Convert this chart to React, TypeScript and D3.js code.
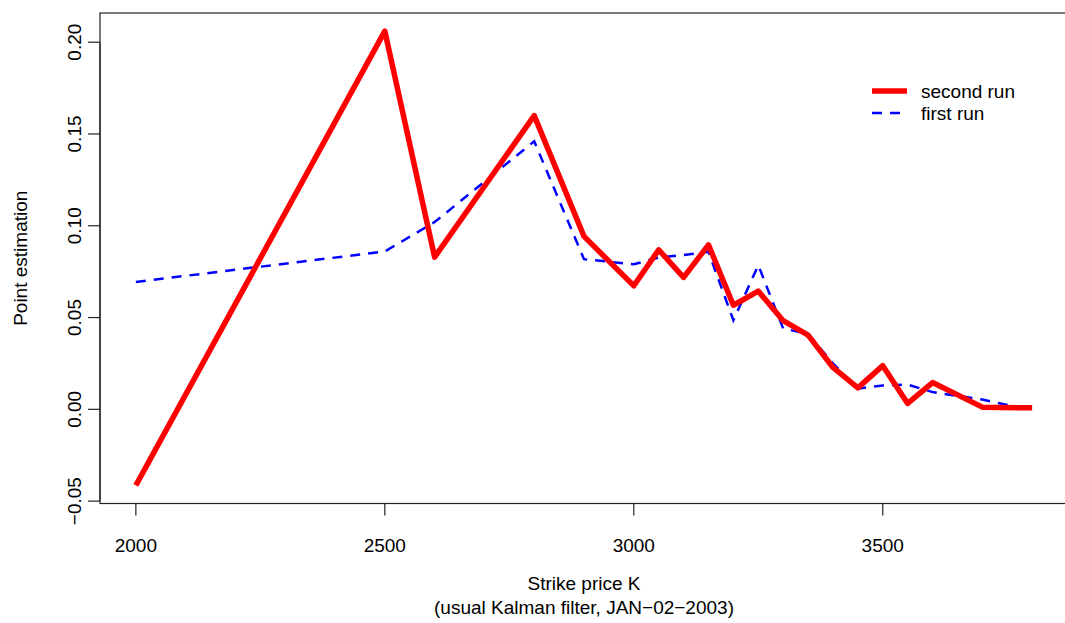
import React from 'react'
import { useEffect, useRef } from 'react'
import * as d3 from 'd3'

// strike prices (shared by both runs)
const strikes = [2000, 2500, 2600, 2800, 2900, 3000, 3050, 3100, 3150, 3200, 3250, 3300, 3350, 3400, 3450, 3500, 3550, 3600, 3700, 3800]

// point estimates
const secondRun = [-0.0414, 0.206, 0.0829, 0.160, 0.0942, 0.0673, 0.0869, 0.0719, 0.0896, 0.0567, 0.0644, 0.0483, 0.0404, 0.0228, 0.0117, 0.0238, 0.0032, 0.0146, 0.0012, 0.0008]
const firstRun = [0.0694, 0.0860, 0.1020, 0.1460, 0.0818, 0.0790, 0.0827, 0.0840, 0.0858, 0.0485, 0.0785, 0.0440, 0.0412, 0.0250, 0.0113, 0.0130, 0.0135, 0.0094, 0.0053, -0.0005]

const xTicks = [2000, 2500, 3000, 3500]
const yTicks = [-0.05, 0, 0.05, 0.1, 0.15, 0.2]

const legendLabels = ['second run', 'first run']

const fmtY = (v: number) => d3.format('.2f')(v).replace('-', '\u2212')

function App() {
    const svgRef = useRef<SVGSVGElement>(null)
    const width = 1065
    const height = 623
    const left = 100
    const right = 1068
    const top = 13
    const bottom = 503.5
    const font = '"Liberation Sans", Arial, Helvetica, sans-serif'
    const fs = 19

    useEffect(() => {
        const svg = d3.select(svgRef.current)
        svg.selectAll('*').remove()

        // R style 4% padding on both axes
        const xExt = d3.extent(strikes) as [number, number]
        const xPad = (xExt[1] - xExt[0]) * 0.04
        const xScale = d3.scaleLinear()
            .domain([xExt[0] - xPad, xExt[1] + xPad])
            .range([left, right])

        const yExt = d3.extent(secondRun.concat(firstRun)) as [number, number]
        const yPad = (yExt[1] - yExt[0]) * 0.04
        const yScale = d3.scaleLinear()
            .domain([yExt[0] - yPad, yExt[1] + yPad])
            .range([bottom, top])

        const line = d3.line<number>()
            .x((d, i) => xScale(strikes[i]))
            .y((d) => yScale(d))

        // plot box
        svg.append('rect')
            .attr('x', left)
            .attr('y', top)
            .attr('width', right - left)
            .attr('height', bottom - top)
            .attr('fill', 'none')
            .attr('stroke', '#222')
            .attr('stroke-width', 1.2)

        // x axis
        const xAxis = svg.append('g').attr('id', 'x-axis')
        xAxis.append('line')
            .attr('x1', xScale(xTicks[0])).attr('x2', xScale(xTicks[xTicks.length - 1]))
            .attr('y1', bottom).attr('y2', bottom)
            .attr('stroke', '#222').attr('stroke-width', 1.2)
        xTicks.forEach((t) => {
            xAxis.append('line')
                .attr('x1', xScale(t)).attr('x2', xScale(t))
                .attr('y1', bottom).attr('y2', bottom + 12)
                .attr('stroke', '#222').attr('stroke-width', 1.2)
            xAxis.append('text')
                .attr('x', xScale(t)).attr('y', bottom + 48)
                .attr('text-anchor', 'middle')
                .attr('font-family', font).attr('font-size', fs)
                .text(t)
        })

        // y axis
        const yAxis = svg.append('g').attr('id', 'y-axis')
        yAxis.append('line')
            .attr('x1', left).attr('x2', left)
            .attr('y1', yScale(yTicks[0])).attr('y2', yScale(yTicks[yTicks.length - 1]))
            .attr('stroke', '#222').attr('stroke-width', 1.2)
        yTicks.forEach((t) => {
            const y = yScale(t)
            yAxis.append('line')
                .attr('x1', left - 12).attr('x2', left)
                .attr('y1', y).attr('y2', y)
                .attr('stroke', '#222').attr('stroke-width', 1.2)
            yAxis.append('text')
                .attr('transform', `translate(${81},${y}) rotate(-90)`)
                .attr('text-anchor', 'middle')
                .attr('font-family', font).attr('font-size', fs)
                .text(fmtY(t))
        })

        // axis titles
        const midX = (left + right) / 2
        svg.append('text')
            .attr('x', midX).attr('y', 590)
            .attr('text-anchor', 'middle')
            .attr('font-family', font).attr('font-size', fs)
            .text('Strike price K')
        svg.append('text')
            .attr('x', midX).attr('y', 614)
            .attr('text-anchor', 'middle')
            .attr('font-family', font).attr('font-size', fs)
            .text('(usual Kalman filter, JAN\u221202\u22122003)')
        svg.append('text')
            .attr('transform', `translate(${27},${(top + bottom) / 2}) rotate(-90)`)
            .attr('text-anchor', 'middle')
            .attr('font-family', font).attr('font-size', fs)
            .text('Point estimation')

        // series
        svg.append('path')
            .attr('d', line(firstRun))
            .attr('fill', 'none')
            .attr('stroke', '#0000ff')
            .attr('stroke-width', 2.5)
            .attr('stroke-dasharray', '10,8')
        svg.append('path')
            .attr('d', line(secondRun))
            .attr('fill', 'none')
            .attr('stroke', '#ff0000')
            .attr('stroke-width', 5.5)
            .attr('stroke-linejoin', 'round')

        // legend
        const legend = svg.append('g').attr('transform', 'translate(872,91)')
        legend.append('line')
            .attr('x1', 0).attr('x2', 35).attr('y1', 0).attr('y2', 0)
            .attr('stroke', '#ff0000').attr('stroke-width', 5.5)
        legend.append('line')
            .attr('x1', 0).attr('x2', 35).attr('y1', 22).attr('y2', 22)
            .attr('stroke', '#0000ff').attr('stroke-width', 2.5)
            .attr('stroke-dasharray', '10,8')
        legendLabels.forEach((l, i) => {
            legend.append('text')
                .attr('x', 49).attr('y', i * 22)
                .attr('dy', '0.35em')
                .attr('font-family', font).attr('font-size', fs)
                .text(l)
        })
    }, [])

    return (
        <svg
            ref={svgRef}
            width={width}
            height={height}
            style={{ position: 'absolute', left: 0, top: 0, display: 'block', background: '#fff' }}
        />
    )
}

export default App
